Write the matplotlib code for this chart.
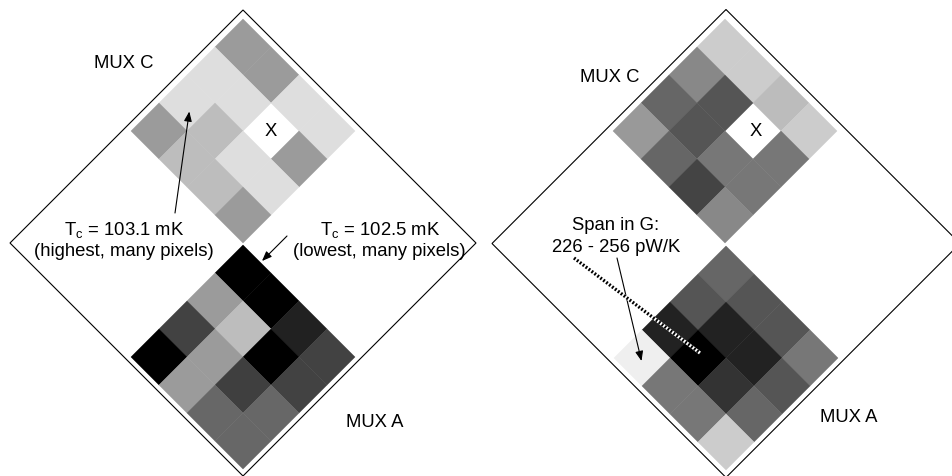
import numpy as np
import matplotlib
matplotlib.use("Agg")
import matplotlib.pyplot as plt
from matplotlib.patches import Polygon

plt.rcParams["font.family"] = ["Liberation Sans", "DejaVu Sans"]
plt.rcParams["mathtext.fontset"] = "custom"
plt.rcParams["mathtext.rm"] = "Liberation Sans"
plt.rcParams["mathtext.it"] = "Liberation Sans"

nan = np.nan

# Transition temperature Tc (mK) per pixel, rows run down-left, columns down-right
tc_mux_c = [[102.92, 102.92, 103.10, 103.10],
            [103.10, 103.10, nan,    102.92],
            [103.10, 103.01, 103.10, 103.10],
            [102.92, 103.01, 103.01, 102.92]]
tc_mux_a = [[102.50, 102.50, 102.59, 102.68],
            [102.92, 103.01, 102.50, 102.68],
            [102.68, 102.92, 102.67, 102.78],
            [102.50, 102.92, 102.78, 102.78]]

# Thermal conductance G (pW/K) per pixel
g_mux_c = [[251.7, 251.7, 249.6, 251.7],
           [243.1, 236.7, nan,   241.0],
           [238.9, 236.7, 241.0, 241.0],
           [245.3, 238.9, 234.6, 243.1]]
g_mux_a = [[238.9, 236.7, 236.7, 241.0],
           [236.7, 230.3, 230.3, 236.7],
           [230.3, 226.0, 232.4, 238.9],
           [256.0, 241.0, 241.0, 251.7]]

tc_range = (102.5, 103.19)
g_range = (226.0, 258.1)

fig = plt.figure(figsize=(9.53, 4.76), dpi=100)
ax = fig.add_axes([0, 0, 1, 1])
ax.set_xlim(0, 953)
ax.set_ylim(476, 0)
ax.set_aspect("equal")
ax.axis("off")

STEP = 28.0  # half-diagonal of one pixel


def pixel_grid(top, values, rng):
    x0, y0 = top
    n = len(values)
    i, j = np.meshgrid(np.arange(n + 1), np.arange(n + 1), indexing="ij")
    X = x0 + (j - i) * STEP
    Y = y0 + (i + j) * STEP
    C = np.ma.masked_invalid(np.array(values, dtype=float))
    ax.pcolormesh(X, Y, C, cmap="gray", vmin=rng[0], vmax=rng[1],
                  shading="flat", antialiased=True, edgecolor="face", lw=0.3)


def frame(center, r):
    cx, cy = center
    pts = [(cx, cy - r), (cx + r, cy), (cx, cy + r), (cx - r, cy)]
    ax.add_patch(Polygon(pts, closed=True, fill=False, ec="black", lw=0.8,
                         zorder=1))


# Left panel: Tc map
frame((243, 243), 233)
pixel_grid((242.7, 19), tc_mux_c, tc_range)
pixel_grid((242.7, 245), tc_mux_a, tc_range)

# Right panel: G map
frame((726, 243.5), 234)
pixel_grid((725.5, 19), g_mux_c, g_range)
pixel_grid((726, 246), g_mux_a, g_range)

fs = 13.3
txt = dict(fontsize=fs, ha="center", va="baseline", color="black")

ax.text(123.5, 68, "MUX C", **txt)
ax.text(374.5, 427, "MUX A", **txt)
ax.text(609.5, 82, "MUX C", **txt)
ax.text(848.5, 422, "MUX A", **txt)

ax.text(270.7, 131, "X", fontsize=fs, ha="center", va="center")
ax.text(756, 132, "X", fontsize=fs, ha="center", va="center")

ax.text(124.5, 235.5, r"T$_\mathregular{c}$ = 103.1 mK", **txt)
ax.text(124, 256, "(highest, many pixels)", **txt)
ax.text(380, 235.5, r"T$_\mathregular{c}$ = 102.5 mK", **txt)
ax.text(379, 256, "(lowest, many pixels)", **txt)

ax.text(616, 230, "Span in G:", **txt)
ax.text(616, 252, "226 - 256 pW/K", **txt)

arrow = dict(arrowstyle="-|>,head_length=0.45,head_width=0.18",
             lw=0.8, color="black", mutation_scale=13,
             shrinkA=0, shrinkB=0)
ax.annotate("", xy=(189.3, 111.5), xytext=(175, 213), arrowprops=arrow)
ax.annotate("", xy=(262, 261), xytext=(287, 236), arrowprops=arrow)
ax.annotate("", xy=(641.5, 361), xytext=(617, 258), arrowprops=arrow)

# Hatched pointer across the darkest pixels
ax.plot([574, 700], [258, 353], color="white", lw=2.4, solid_capstyle="butt",
        zorder=3)
ax.plot([574, 700], [258, 353], color="black", lw=2.4,
        linestyle=(0, (0.55, 0.55)), dash_capstyle="butt", zorder=4)

fig.savefig("out.png", dpi=100)
